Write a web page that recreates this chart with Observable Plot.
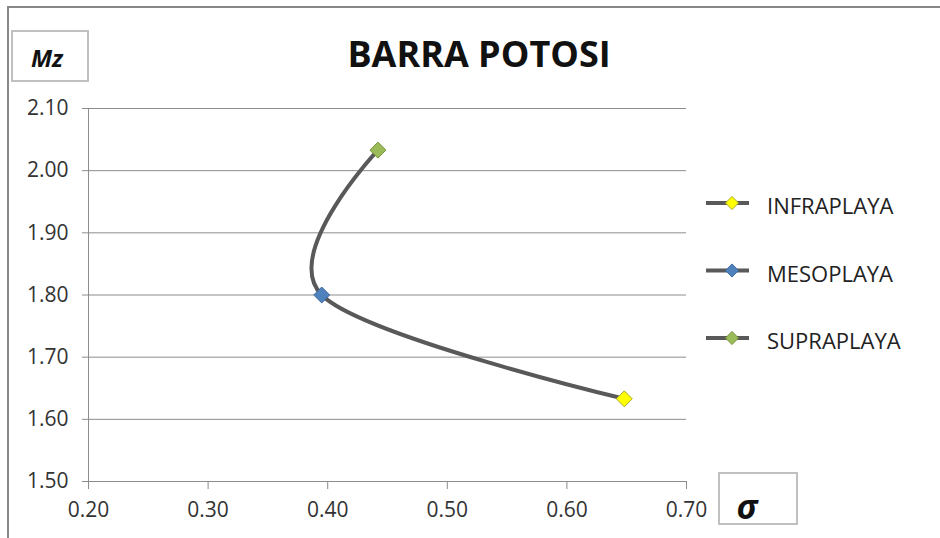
<!DOCTYPE html>
<html><head><meta charset="utf-8">
<script src="https://cdn.jsdelivr.net/npm/d3@7"></script>
<script src="https://cdn.jsdelivr.net/npm/@observablehq/plot@0.6"></script>
<style>body{margin:0;background:#fff} svg{display:block}</style>
</head><body><div id="chart"></div>
<script>
const series = ["INFRAPLAYA", "MESOPLAYA", "SUPRAPLAYA"];
const sigma = [0.648, 0.395, 0.442];
const mz = [1.633, 1.800, 2.033];
const fills = ["#FFFF00", "#4F81BD", "#9BBB59"];
const strokes = ["#a8a830", "#3d6a9e", "#76923c"];
const xTicks = [0.2, 0.3, 0.4, 0.5, 0.6, 0.7];
const yTicks = [1.5, 1.6, 1.7, 1.8, 1.9, 2.0, 2.1];
const title = "BARRA POTOSI";
const yLabel = "Mz";
const xLabel = "σ";

const data = series.map((s, i) => ({name: s, x: sigma[i], y: mz[i], fill: fills[i], stroke: strokes[i]}));
const fmt = d3.format(".2f");
const gridColor = "#8c8c8c";

const plot = Plot.plot({
  width: 940, height: 538,
  marginLeft: 88, marginRight: 254, marginTop: 108, marginBottom: 57,
  style: {fontFamily: "Open Sans", fontSize: "21px", color: "#333", background: "white", overflow: "visible"},
  x: {domain: [0.2, 0.7], label: null},
  y: {domain: [1.5, 2.1], label: null},
  marks: [
    Plot.gridY(yTicks, {stroke: gridColor, strokeOpacity: 1}),
    Plot.ruleX([0.2], {stroke: gridColor}),
    Plot.axisY(yTicks, {tickSize: 6, tickPadding: 14, tickFormat: fmt, stroke: gridColor, label: null}),
    Plot.axisX(xTicks, {tickSize: 8, tickPadding: 13, tickFormat: fmt, stroke: gridColor, label: null}),
    Plot.line(data, {x: "x", y: "y", curve: "cardinal", stroke: "#595959", strokeWidth: 4}),
    Plot.dot(data, {x: "x", y: "y", symbol: "diamond2", r: 7.2, fill: "fill", stroke: "stroke", strokeWidth: 1})
  ]
});

const svg = d3.select(plot);
// outer chart border
svg.append("rect").attr("x", 8).attr("y", 7).attr("width", 960).attr("height", 560)
  .attr("fill", "none").attr("stroke", "#888").attr("stroke-width", 2);
// title
svg.append("text").attr("x", 479).attr("y", 67).attr("text-anchor", "middle")
  .attr("font-family", "Open Sans").attr("font-weight", "bold").attr("font-size", 36)
  .attr("fill", "#111").text(title);
// Mz box
svg.append("rect").attr("x", 12).attr("y", 31).attr("width", 76).attr("height", 50)
  .attr("fill", "white").attr("stroke", "#c0c0c0").attr("stroke-width", 2);
svg.append("text").attr("x", 47).attr("y", 67).attr("text-anchor", "middle")
  .attr("font-family", "Open Sans").attr("font-weight", "bold").attr("font-style", "italic")
  .attr("font-size", 24).attr("fill", "#111").text(yLabel);
// sigma box
svg.append("rect").attr("x", 719).attr("y", 473).attr("width", 78).attr("height", 51)
  .attr("fill", "white").attr("stroke", "#c0c0c0").attr("stroke-width", 2);
svg.append("text").attr("x", 747).attr("y", 519).attr("text-anchor", "middle")
  .attr("font-family", "Open Sans").attr("font-weight", "bold").attr("font-style", "italic")
  .attr("font-size", 34).attr("fill", "#111").text(xLabel);
// legend
const lg = svg.append("g");
data.forEach((d, i) => {
  const cy = 203 + i * 67.5;
  lg.append("line").attr("x1", 706).attr("x2", 749).attr("y1", cy).attr("y2", cy)
    .attr("stroke", "#595959").attr("stroke-width", 4);
  lg.append("path").attr("transform", `translate(732,${cy})`)
    .attr("d", d3.symbol(d3.symbolDiamond2, 110)())
    .attr("fill", d.fill).attr("stroke", d.stroke).attr("stroke-width", 1);
  lg.append("text").attr("x", 767).attr("y", cy + 4).attr("dy", "0.32em")
    .attr("text-anchor", "start")
    .attr("font-family", "Open Sans").attr("font-size", 22).attr("fill", "#222").text(d.name);
});

document.getElementById("chart").appendChild(plot);
</script>
</body></html>
